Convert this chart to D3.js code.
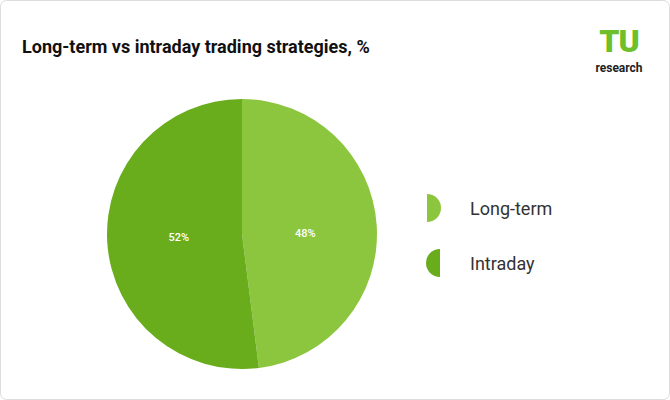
<!DOCTYPE html>
<html><head><meta charset="utf-8">
<script src="https://cdn.jsdelivr.net/npm/d3@7"></script>
<style>body{margin:0;background:#fff;font-family:Roboto,sans-serif}</style>
</head><body>
<svg id="c" width="670" height="400"></svg>
<script>
const categories = ["Long-term", "Intraday"];
const values = [48, 52];
const colors = ["#8cc63e", "#6aad1c"];

const svg = d3.select("#c");
svg.append("rect").attr("x", 0.5).attr("y", 0.5).attr("width", 669).attr("height", 399)
  .attr("rx", 6).attr("fill", "#fff").attr("stroke", "#dcdcdc");

svg.append("text").attr("x", 22).attr("y", 53).attr("font-size", 18).attr("font-weight", 700)
  .attr("fill", "#111").text("Long-term vs intraday trading strategies, %");

// logo
svg.append("text").attr("x", 619).attr("y", 52).attr("text-anchor", "middle").attr("font-size", 32)
  .attr("font-weight", 900).attr("fill", "#6fbf2a").attr("letter-spacing", -1).text("TU");
svg.append("text").attr("x", 619).attr("y", 72).attr("text-anchor", "middle").attr("font-size", 12)
  .attr("font-weight", 700).attr("fill", "#222").text("research");

const cx = 242, cy = 234, r = 135;
const pie = d3.pie().sort(null).value(d => d)(values);
const arc = d3.arc().innerRadius(0).outerRadius(r);
const g = svg.append("g").attr("transform", `translate(${cx},${cy})`);
g.selectAll("path").data(pie).join("path").attr("d", arc).attr("fill", (d, i) => colors[i]);
const lab = d3.arc().innerRadius(r * 0.47).outerRadius(r * 0.47);
g.selectAll("text").data(pie).join("text")
  .attr("transform", d => { const [x, y] = lab.centroid(d); return `translate(${x},${y / 2 + 5})`; })
  .attr("text-anchor", "middle").attr("font-size", 11).attr("font-weight", 500).attr("fill", "#fff")
  .text(d => d.data + "%");

// legend
const half = d3.arc().innerRadius(0).outerRadius(14);
categories.forEach((c, i) => {
  const y = 208 + i * 55;
  const a = i === 0 ? [0, Math.PI] : [Math.PI, 2 * Math.PI];
  svg.append("path").attr("transform", `translate(${i === 0 ? 427 : 440},${y})`)
    .attr("d", half({startAngle: a[0], endAngle: a[1]})).attr("fill", colors[i]);
  svg.append("text").attr("x", 470).attr("y", y + 7).attr("font-size", 18).attr("fill", "#333").text(c);
});
</script>
</body></html>
